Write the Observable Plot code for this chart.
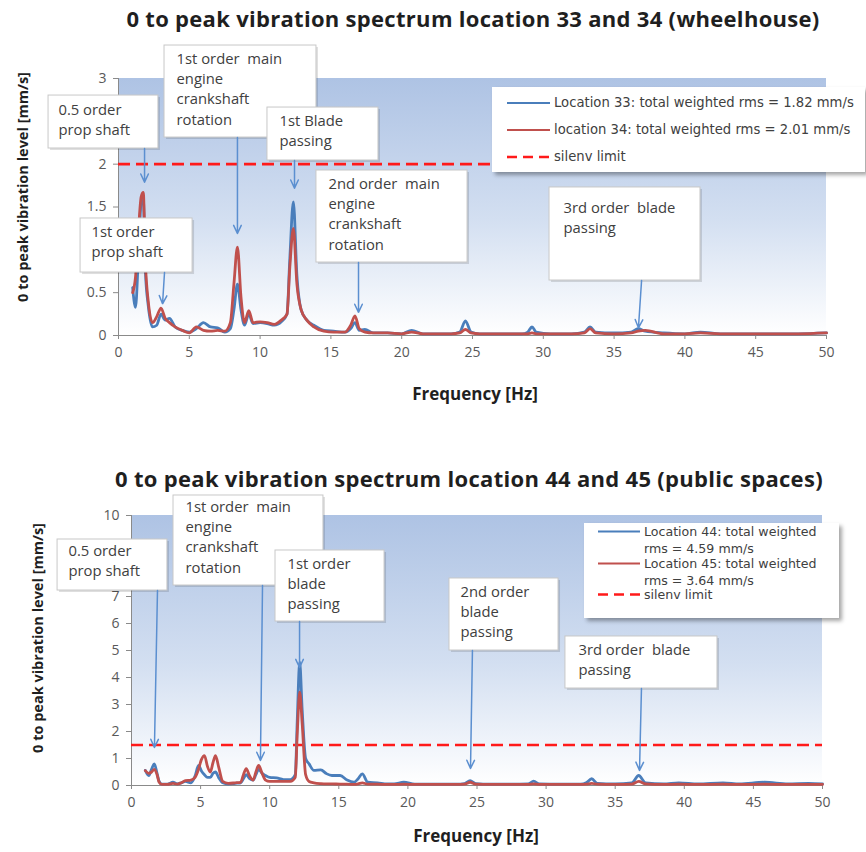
<!DOCTYPE html>
<html>
<head>
<meta charset="utf-8">
<script src="https://cdn.jsdelivr.net/npm/d3@7"></script>
<script src="https://cdn.jsdelivr.net/npm/@observablehq/plot@0.6"></script>
<style>
  body { margin: 0; background: #fff; }
  #wrap { position: relative; width: 866px; height: 852px; font-family: "Open Sans", sans-serif; overflow: hidden; }
  .chart { position: absolute; left: 0; }
  .title { position: absolute; font-weight: bold; font-size: 22px; letter-spacing: 0.3px; color: #1f1f1f; white-space: nowrap; transform: translate(-50%, -50%); }
  .xlab { position: absolute; font-weight: bold; font-size: 17px; color: #1f1f1f; white-space: nowrap; transform: translate(-50%, -50%); }
  .ylab { position: absolute; font-weight: bold; font-size: 14.5px; color: #1f1f1f; white-space: nowrap; transform: translate(-50%, -50%) rotate(-90deg); }
  .legend { position: absolute; background: #fff; box-shadow: 3px 3px 4px rgba(0,0,0,0.35); color: #404040; font-family: "DejaVu Sans", sans-serif; }
  .legend .row { position: absolute; white-space: nowrap; display: flex; align-items: flex-start; }
  .legend svg { flex: none; }
</style>
</head>
<body>
<div id="wrap"></div>
<script>
// ---------- data ----------
const xTicks = [0, 5, 10, 15, 20, 25, 30, 35, 40, 45, 50];
const yTicksTop = [0, 0.5, 1, 1.5, 2, 2.5, 3];
const yTicksBottom = [0, 1, 2, 3, 4, 5, 6, 7, 8, 9, 10];
// tick labels that the reference hides behind annotation boxes
const hiddenTop = [1, 2.5];
const hiddenBottom = [8, 9];
const limitTop = 2;
const limitBottom = 1.5;

const titleTop = "0 to peak vibration spectrum location 33 and 34 (wheelhouse)";
const titleBottom = "0 to peak vibration spectrum location 44 and 45 (public spaces)";
const xLabel = "Frequency [Hz]";
const yLabel = "0 to peak vibration level [mm/s]";

const seriesTop = ["Location 33: total weighted rms = 1.82 mm/s", "location 34: total weighted rms = 2.01 mm/s", "silenv limit"];
const seriesBottom = ["Location 44: total weighted\nrms = 4.59 mm/s", "Location 45: total weighted\nrms = 3.64 mm/s", "silenv limit"];

const freqTop = [1.0, 1.2, 1.4, 1.6, 1.75, 1.9, 2.1, 2.4, 2.7, 3.0, 3.3, 3.6, 4.0, 4.5, 5.0, 5.5, 6.0, 6.5, 7.0, 7.5, 7.9, 8.15, 8.4, 8.65, 8.9, 9.2, 9.5, 10.0, 10.5, 11.0, 11.5, 11.9, 12.1, 12.35, 12.6, 12.9, 13.3, 13.8, 14.5, 15.2, 16.0, 16.4, 16.7, 17.0, 17.4, 18.0, 19.0, 20.0, 20.7, 21.5, 22.5, 23.5, 24.1, 24.5, 24.9, 25.5, 27, 28.5, 28.9, 29.2, 29.5, 30.5, 32, 32.9, 33.3, 33.7, 35, 36.2, 36.7, 37.2, 38.5, 40, 41.1, 42.5, 44, 46, 48, 50];
const loc33 = [0.56, 0.33, 0.9, 1.55, 1.58, 0.75, 0.35, 0.1, 0.12, 0.25, 0.18, 0.2, 0.1, 0.06, 0.04, 0.08, 0.15, 0.1, 0.09, 0.04, 0.08, 0.3, 0.6, 0.3, 0.12, 0.25, 0.14, 0.15, 0.14, 0.12, 0.16, 0.25, 0.9, 1.56, 0.7, 0.3, 0.18, 0.12, 0.06, 0.05, 0.04, 0.08, 0.15, 0.06, 0.07, 0.03, 0.03, 0.02, 0.06, 0.02, 0.02, 0.02, 0.04, 0.17, 0.04, 0.02, 0.02, 0.02, 0.04, 0.1, 0.04, 0.02, 0.02, 0.04, 0.1, 0.04, 0.03, 0.04, 0.08, 0.05, 0.03, 0.02, 0.04, 0.02, 0.02, 0.02, 0.02, 0.03];
const loc34 = [0.5, 0.68, 1.2, 1.62, 1.67, 0.85, 0.4, 0.15, 0.22, 0.32, 0.2, 0.15, 0.1, 0.06, 0.03, 0.1, 0.06, 0.05, 0.06, 0.05, 0.15, 0.6, 1.03, 0.45, 0.15, 0.29, 0.15, 0.16, 0.15, 0.13, 0.18, 0.25, 0.8, 1.25, 0.6, 0.3, 0.18, 0.1, 0.05, 0.04, 0.04, 0.12, 0.23, 0.08, 0.04, 0.03, 0.03, 0.02, 0.04, 0.02, 0.02, 0.02, 0.03, 0.07, 0.03, 0.02, 0.02, 0.02, 0.02, 0.03, 0.02, 0.02, 0.02, 0.03, 0.08, 0.03, 0.02, 0.03, 0.05, 0.06, 0.02, 0.02, 0.03, 0.02, 0.02, 0.02, 0.02, 0.03];

const freqBottom = [1.0, 1.25, 1.45, 1.65, 1.85, 2.0, 2.2, 2.6, 3.0, 3.3, 3.6, 3.9, 4.3, 4.6, 4.85, 5.05, 5.28, 5.5, 5.7, 5.9, 6.08, 6.3, 6.6, 7.0, 7.5, 7.9, 8.1, 8.3, 8.55, 8.8, 9.0, 9.2, 9.45, 9.7, 10.0, 10.5, 11.0, 11.5, 11.85, 12.0, 12.17, 12.35, 12.6, 12.85, 13.2, 13.7, 14.1, 14.5, 15.1, 15.6, 16.1, 16.4, 16.7, 17.1, 17.8, 18.5, 19.0, 19.7, 20.5, 21.5, 22.5, 23.5, 24.1, 24.5, 24.9, 26, 27.5, 28.7, 29.1, 29.5, 31, 32.5, 32.9, 33.3, 33.7, 35, 36.2, 36.7, 37.2, 38.5, 39.6, 41, 42.8, 44, 45.8, 47.5, 49, 50];
const loc44 = [0.56, 0.37, 0.6, 0.8, 0.45, 0.15, 0.05, 0.05, 0.12, 0.06, 0.1, 0.15, 0.1, 0.35, 0.74, 0.55, 0.4, 0.3, 0.3, 0.45, 0.5, 0.3, 0.1, 0.05, 0.08, 0.1, 0.25, 0.4, 0.25, 0.2, 0.4, 0.6, 0.45, 0.37, 0.3, 0.28, 0.22, 0.22, 0.4, 2.5, 4.57, 2.8, 1.0, 0.8, 0.56, 0.58, 0.44, 0.37, 0.37, 0.2, 0.12, 0.25, 0.43, 0.12, 0.1, 0.06, 0.06, 0.12, 0.05, 0.05, 0.05, 0.05, 0.07, 0.18, 0.07, 0.05, 0.05, 0.06, 0.16, 0.06, 0.05, 0.05, 0.1, 0.25, 0.08, 0.06, 0.1, 0.37, 0.1, 0.06, 0.1, 0.06, 0.1, 0.06, 0.12, 0.06, 0.08, 0.06];
const loc45 = [0.55, 0.45, 0.5, 0.6, 0.4, 0.12, 0.04, 0.04, 0.08, 0.05, 0.1, 0.18, 0.2, 0.3, 0.6, 0.95, 1.11, 0.7, 0.5, 0.85, 1.11, 0.7, 0.15, 0.08, 0.1, 0.12, 0.4, 0.62, 0.35, 0.2, 0.5, 0.74, 0.45, 0.2, 0.15, 0.15, 0.15, 0.15, 0.3, 2.0, 3.46, 2.3, 0.4, 0.15, 0.1, 0.07, 0.06, 0.06, 0.05, 0.05, 0.04, 0.06, 0.1, 0.05, 0.05, 0.04, 0.04, 0.05, 0.04, 0.04, 0.04, 0.04, 0.05, 0.12, 0.05, 0.04, 0.04, 0.04, 0.06, 0.04, 0.04, 0.04, 0.05, 0.08, 0.05, 0.04, 0.05, 0.15, 0.06, 0.04, 0.05, 0.04, 0.05, 0.04, 0.05, 0.04, 0.04, 0.04];

// annotation labels and the (frequency, level) each arrow points to
const notesTop = [
  {label: "0.5 order\nprop shaft", f: 1.84, v: 1.79},
  {label: "1st order  main\nengine\ncrankshaft\nrotation", f: 8.4, v: 1.19},
  {label: "1st Blade\npassing", f: 12.43, v: 1.72},
  {label: "1st order\nprop shaft", f: 3.11, v: 0.37},
  {label: "2nd order  main\nengine\ncrankshaft\nrotation", f: 16.95, v: 0.27},
  {label: "3rd order  blade\npassing", f: 36.72, v: 0.09}
];
const notesBottom = [
  {label: "0.5 order\nprop shaft", f: 1.66, v: 1.41},
  {label: "1st order  main\nengine\ncrankshaft\nrotation", f: 9.33, v: 0.93},
  {label: "1st order\nblade\npassing", f: 12.16, v: 4.37},
  {label: "2nd order\nblade\npassing", f: 24.53, v: 0.63},
  {label: "3rd order  blade\npassing", f: 36.76, v: 0.56}
];

// ---------- layout (annotation boxes in chart units) ----------
const boxesTop = [
  {x1: -4.94, x2: 2.82, y1: 2.183, y2: 2.801, tx: -4.24, ty: 2.743, ax: 1.84, ay: 2.183},
  {x1: 3.25, x2: 13.98, y1: 2.311, y2: 3.385, tx: 4.10, ty: 3.339, ax: 8.4, ay: 2.311},
  {x1: 10.52, x2: 18.36, y1: 2.043, y2: 2.661, tx: 11.37, ty: 2.615, ax: 12.43, ay: 2.043},
  {x1: -2.68, x2: 5.23, y1: 0.735, y2: 1.366, tx: -1.91, ty: 1.319, ax: 3.25, ay: 0.735},
  {x1: 13.98, x2: 24.65, y1: 0.852, y2: 1.926, tx: 14.83, ty: 1.880, ax: 16.95, ay: 0.852},
  {x1: 30.44, x2: 41.10, y1: 0.642, y2: 1.728, tx: 31.43, ty: 1.599, ax: 36.94, ay: 0.642}
];
const boxesBottom = [
  {x1: -5.35, x2: 2.60, y1: 7.222, y2: 9.111, tx: -4.56, ty: 9.037, ax: 1.88, ay: 7.222},
  {x1: 3.04, x2: 13.89, y1: 7.407, y2: 10.741, tx: 3.91, ty: 10.666, ax: 9.48, ay: 7.407},
  {x1: 10.42, x2: 18.31, y1: 6.074, y2: 8.704, tx: 11.29, ty: 8.555, ax: 12.16, ay: 6.074},
  {x1: 23.01, x2: 30.90, y1: 5.0, y2: 7.667, tx: 23.81, ty: 7.518, ax: 24.67, ay: 5.0},
  {x1: 31.40, x2: 42.40, y1: 3.593, y2: 5.519, tx: 32.34, ty: 5.370, ax: 36.90, ay: 3.593}
];

const BLUE = "#4a7ebb", RED = "#c0504d", LIMIT = "#ff1a1a", ARROW = "#5b8fd0";

function gradientBg(id) {
  return (index, scales, values, dims) => {
    const g = d3.create("svg:g");
    const grad = g.append("defs").append("linearGradient").attr("id", id)
      .attr("x1", 0).attr("y1", 0).attr("x2", 0).attr("y2", 1);
    grad.append("stop").attr("offset", "0%").attr("stop-color", "#aec3e4");
    grad.append("stop").attr("offset", "55%").attr("stop-color", "#d3dff1");
    grad.append("stop").attr("offset", "100%").attr("stop-color", "#ffffff");
    g.append("rect")
      .attr("x", dims.marginLeft).attr("y", dims.marginTop)
      .attr("width", dims.width - dims.marginLeft - dims.marginRight)
      .attr("height", dims.height - dims.marginTop - dims.marginBottom)
      .attr("fill", `url(#${id})`);
    return g.node();
  };
}

function chart(o) {
  const lineA = o.freq.map((f, i) => ({f, v: o.a[i]}));
  const lineB = o.freq.map((f, i) => ({f, v: o.b[i]}));
  const boxes = o.notes.map((n, i) => ({...n, ...o.boxes[i]}));
  return Plot.plot({
    width: 866, height: o.height,
    marginTop: o.mt, marginBottom: o.mb, marginLeft: o.ml, marginRight: o.mr,
    style: {fontFamily: "'Open Sans', sans-serif", fontSize: "14px", color: "#595959", background: "transparent", overflow: "visible"},
    x: {domain: [0, 50]},
    y: {domain: [0, o.yMax]},
    marks: [
      gradientBg(o.id),
      Plot.axisX({ticks: xTicks, tickSize: 4, tickPadding: 8, tickFormat: d => String(d), stroke: "#8a8a8a", label: null}),
      Plot.axisY({ticks: o.yTicks, tickSize: 5, tickPadding: 7, tickFormat: d => o.hidden.includes(d) ? "" : String(d), stroke: "#8a8a8a", label: null}),
      Plot.ruleY([0], {stroke: "#8a8a8a"}),
      Plot.ruleX([0], {stroke: "#8a8a8a"}),
      Plot.ruleY([o.limit], {stroke: LIMIT, strokeWidth: 2.6, strokeDasharray: "12,6"}),
      Plot.line(lineA, {x: "f", y: "v", stroke: BLUE, strokeWidth: 2.8, curve: "monotone-x"}),
      Plot.line(lineB, {x: "f", y: "v", stroke: RED, strokeWidth: 2.8, curve: "monotone-x"}),
      Plot.rect(boxes, {x1: "x1", x2: "x2", y1: "y1", y2: "y2", fill: "#000", fillOpacity: 0.13, dx: 2, dy: 2}),
      Plot.rect(boxes, {x1: "x1", x2: "x2", y1: "y1", y2: "y2", fill: "#fff", stroke: "#c8c8c8"}),
      Plot.text(boxes, {x: "tx", y: "ty", text: "label", textAnchor: "start", lineAnchor: "top", lineHeight: 1.37, fill: "#404040", fontSize: 14.8}),
      Plot.arrow(boxes, {x1: "ax", y1: "ay", x2: "f", y2: "v", stroke: ARROW, strokeWidth: 1.5, headLength: 9, headAngle: 50})
    ]
  });
}

function legendBox(left, top, width, height, labels, rows, fontSize) {
  const box = document.createElement("div");
  box.className = "legend";
  Object.assign(box.style, {left: left + "px", top: top + "px", width: width + "px", height: height + "px", fontSize: fontSize + "px"});
  const colors = [BLUE, RED, LIMIT];
  labels.forEach((lab, i) => {
    const row = document.createElement("div");
    row.className = "row";
    Object.assign(row.style, {left: rows.left + "px", top: rows.tops[i] + "px", lineHeight: rows.lh + "px"});
    const sw = d3.create("svg").attr("width", rows.sw + 4).attr("height", rows.lh);
    sw.append("line").attr("x1", 0).attr("x2", rows.sw).attr("y1", rows.lh / 2).attr("y2", rows.lh / 2)
      .attr("stroke", colors[i]).attr("stroke-width", i === 2 ? 2.6 : 2.2)
      .attr("stroke-dasharray", i === 2 ? "10,6" : null);
    row.appendChild(sw.node());
    const t = document.createElement("div");
    t.style.whiteSpace = "pre";
    t.textContent = lab;
    row.appendChild(t);
    box.appendChild(row);
  });
  return box;
}

function addText(cls, text, x, y) {
  const d = document.createElement("div");
  d.className = cls;
  d.textContent = text;
  Object.assign(d.style, {left: x + "px", top: y + "px"});
  wrap.appendChild(d);
}

const wrap = document.getElementById("wrap");

const top1 = chart({id: "gTop", freq: freqTop, a: loc33, b: loc34, yTicks: yTicksTop, hidden: hiddenTop, yMax: 3, limit: limitTop,
  notes: notesTop, boxes: boxesTop, height: 420, mt: 78, mb: 85, ml: 118, mr: 40});
top1.classList.add("chart"); top1.style.top = "0px";
wrap.appendChild(top1);

const bot1 = chart({id: "gBot", freq: freqBottom, a: loc44, b: loc45, yTicks: yTicksBottom, hidden: hiddenBottom, yMax: 10, limit: limitBottom,
  notes: notesBottom, boxes: boxesBottom, height: 412, mt: 75, mb: 67, ml: 131, mr: 44});
bot1.classList.add("chart"); bot1.style.top = "440px";
wrap.appendChild(bot1);

addText("title", titleTop, 473, 18);
addText("title", titleBottom, 469, 478);
addText("xlab", xLabel, 475, 393);
addText("xlab", xLabel, 476, 835);
addText("ylab", yLabel, 22, 187);
addText("ylab", yLabel, 37, 638);

wrap.appendChild(legendBox(492, 87, 373, 85, seriesTop, {left: 15, tops: [7, 34, 61], lh: 18, sw: 43}, 13.2));
wrap.appendChild(legendBox(584, 523, 255, 95, seriesBottom, {left: 14, tops: [0, 32, 63], lh: 17, sw: 42}, 12.6));
</script>
</body>
</html>
